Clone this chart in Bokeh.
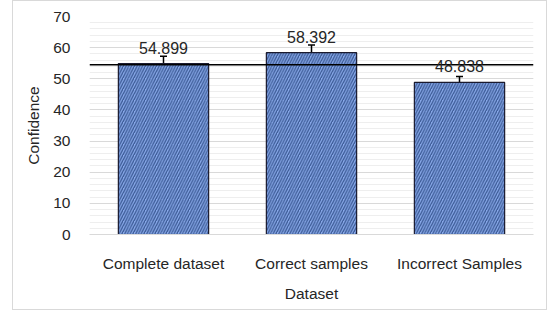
from bokeh.plotting import figure
from bokeh.models import ColumnDataSource, Whisker, Span, LabelSet, FactorRange, TeeHead, SingleIntervalTicker
from bokeh.core.properties import value
from bokeh.embed import file_html
from bokeh.resources import INLINE

categories = ["Complete dataset", "Correct samples", "Incorrect Samples"]
confidence = [54.899, 58.392, 48.838]
error = [2.3, 2.45, 1.9]
labels = ["54.899", "58.392", "48.838"]
reference_line = 54.5

upper = [v + e for v, e in zip(confidence, error)]
lower = [v - e for v, e in zip(confidence, error)]
src = ColumnDataSource(dict(cat=categories, val=confidence, up=upper, lo=lower, lab=labels))

FONT = "Liberation Sans"
p = figure(x_range=FactorRange(*categories), y_range=(0, 70), width=535, height=310,
           output_backend="svg", toolbar_location=None,
           min_border_left=76, min_border_right=15, min_border_top=15, min_border_bottom=77)
p.styles = {"border": "1px solid #d9d9d9", "box-sizing": "border-box", "margin-left": "12px"}
p.outline_line_color = None

p.vbar(x="cat", top="val", width=0.61, source=src,
       fill_color="#88a8e8", line_color="#1a1a2e", line_width=1.2,
       hatch_pattern="/", hatch_color="#3a5994", hatch_scale=5.5, hatch_weight=1.3)

p.add_layout(Whisker(source=src, base="cat", upper="up", lower="lo",
                     line_color="black", line_width=1.5,
                     upper_head=TeeHead(size=7, line_width=1.5, line_color="black"),
                     lower_head=TeeHead(size=7, line_width=1.5, line_color="black")))

p.add_layout(Span(location=reference_line, dimension="width", line_color="black", line_width=1.3))

p.add_layout(LabelSet(x="cat", y="val", text="lab", source=src, y_offset=16,
                      text_align="center", text_baseline="middle",
                      text_font=value(FONT), text_font_size=value("16px"), text_color="#262626"))

p.yaxis.ticker = [0, 10, 20, 30, 40, 50, 60, 70]
p.xgrid.grid_line_color = None
p.ygrid.ticker = SingleIntervalTicker(interval=10, num_minor_ticks=5)
p.ygrid.grid_line_color = "#d9d9d9"
p.ygrid.minor_grid_line_color = "#eeeeee"

for ax in (p.xaxis, p.yaxis):
    ax.major_tick_line_color = None
    ax.minor_tick_line_color = None
    ax.major_label_text_font = FONT
    ax.major_label_text_font_size = "15.5px"
    ax.major_label_text_color = "#262626"
    ax.axis_label_text_font = FONT
    ax.axis_label_text_font_size = "15.5px"
    ax.axis_label_text_font_style = "normal"
    ax.axis_label_text_color = "#262626"
p.yaxis.axis_line_color = None
p.xaxis.axis_line_color = "#d9d9d9"
p.yaxis.axis_label = "Confidence"
p.xaxis.axis_label = "Dataset"
p.yaxis.major_label_standoff = 13
p.yaxis.axis_label_standoff = 8
p.xaxis.major_label_standoff = 14
p.xaxis.axis_label_standoff = 10

open("out.html", "w").write(file_html(p, INLINE))
